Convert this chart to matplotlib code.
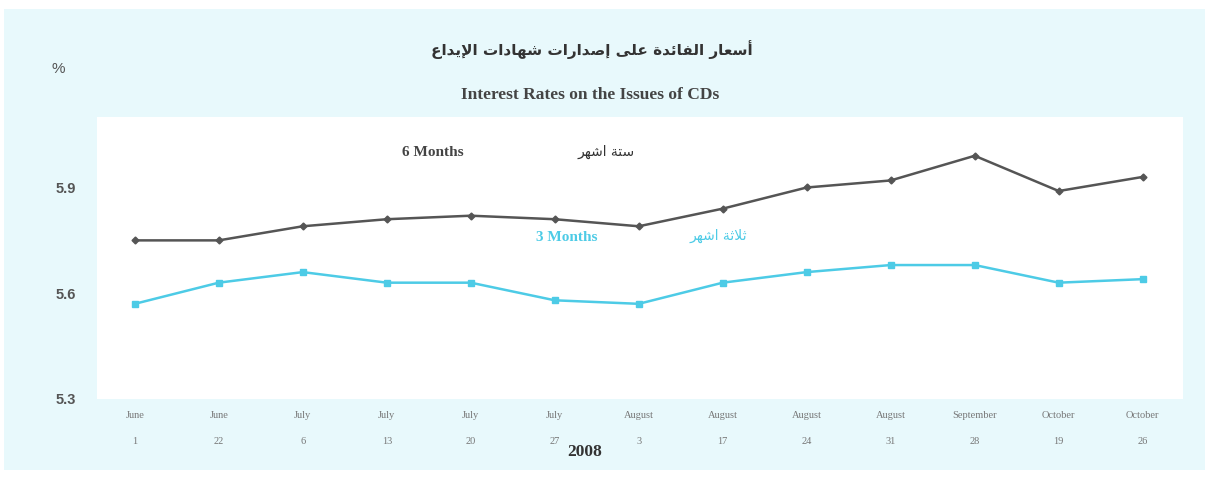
import matplotlib
matplotlib.use("Agg")
import matplotlib.pyplot as plt
from matplotlib.patches import Rectangle

# ---------------- data ----------------
months = ["June", "June", "July", "July", "July", "July", "August", "August",
          "August", "August", "September", "October", "October"]
days = ["1", "22", "6", "13", "20", "27", "3", "17", "24", "31", "28", "19", "26"]
six_months = [5.75, 5.75, 5.79, 5.81, 5.82, 5.81, 5.79, 5.84, 5.90, 5.92, 5.99, 5.89, 5.93]
three_months = [5.57, 5.63, 5.66, 5.63, 5.63, 5.58, 5.57, 5.63, 5.66, 5.68, 5.68, 5.63, 5.64]
yticks = [5.3, 5.6, 5.9]
title_ar = "أسعار الفائدة على إصدارات شهادات الإيداع"
title_en = "Interest Rates on the Issues of CDs"
label6_en, label6_ar = "6 Months", "ستة اشهر"
label3_en, label3_ar = "3 Months", "ثلاثة اشهر"
year_label = "2008"

# ------------- minimal Arabic shaping (presentation forms + RTL) -------------
FORMS = {  # isolated, final, initial, medial
    'ء': (0xFE80, None, None, None),
    'آ': (0xFE81, 0xFE82, None, None),
    'أ': (0xFE83, 0xFE84, None, None),
    'ؤ': (0xFE85, 0xFE86, None, None),
    'إ': (0xFE87, 0xFE88, None, None),
    'ئ': (0xFE89, 0xFE8A, 0xFE8B, 0xFE8C),
    'ا': (0xFE8D, 0xFE8E, None, None),
    'ب': (0xFE8F, 0xFE90, 0xFE91, 0xFE92),
    'ة': (0xFE93, 0xFE94, None, None),
    'ت': (0xFE95, 0xFE96, 0xFE97, 0xFE98),
    'ث': (0xFE99, 0xFE9A, 0xFE9B, 0xFE9C),
    'ج': (0xFE9D, 0xFE9E, 0xFE9F, 0xFEA0),
    'ح': (0xFEA1, 0xFEA2, 0xFEA3, 0xFEA4),
    'خ': (0xFEA5, 0xFEA6, 0xFEA7, 0xFEA8),
    'د': (0xFEA9, 0xFEAA, None, None),
    'ذ': (0xFEAB, 0xFEAC, None, None),
    'ر': (0xFEAD, 0xFEAE, None, None),
    'ز': (0xFEAF, 0xFEB0, None, None),
    'س': (0xFEB1, 0xFEB2, 0xFEB3, 0xFEB4),
    'ش': (0xFEB5, 0xFEB6, 0xFEB7, 0xFEB8),
    'ص': (0xFEB9, 0xFEBA, 0xFEBB, 0xFEBC),
    'ض': (0xFEBD, 0xFEBE, 0xFEBF, 0xFEC0),
    'ط': (0xFEC1, 0xFEC2, 0xFEC3, 0xFEC4),
    'ظ': (0xFEC5, 0xFEC6, 0xFEC7, 0xFEC8),
    'ع': (0xFEC9, 0xFECA, 0xFECB, 0xFECC),
    'غ': (0xFECD, 0xFECE, 0xFECF, 0xFED0),
    'ف': (0xFED1, 0xFED2, 0xFED3, 0xFED4),
    'ق': (0xFED5, 0xFED6, 0xFED7, 0xFED8),
    'ك': (0xFED9, 0xFEDA, 0xFEDB, 0xFEDC),
    'ل': (0xFEDD, 0xFEDE, 0xFEDF, 0xFEE0),
    'م': (0xFEE1, 0xFEE2, 0xFEE3, 0xFEE4),
    'ن': (0xFEE5, 0xFEE6, 0xFEE7, 0xFEE8),
    'ه': (0xFEE9, 0xFEEA, 0xFEEB, 0xFEEC),
    'و': (0xFEED, 0xFEEE, None, None),
    'ى': (0xFEEF, 0xFEF0, None, None),
    'ي': (0xFEF1, 0xFEF2, 0xFEF3, 0xFEF4),
}
LAM_ALEF = {'آ': (0xFEF5, 0xFEF6), 'أ': (0xFEF7, 0xFEF8),
            'إ': (0xFEF9, 0xFEFA), 'ا': (0xFEFB, 0xFEFC)}


def dual(c):
    return c in FORMS and FORMS[c][2] is not None


def shape(text):
    units = []
    i = 0
    while i < len(text):
        c = text[i]
        if c == 'ل' and i + 1 < len(text) and text[i + 1] in LAM_ALEF:
            units.append(('LA', text[i + 1]))
            i += 2
        else:
            units.append(('C', c))
            i += 1
    out = []
    for k, (kind, c) in enumerate(units):
        prev = units[k - 1] if k > 0 else None
        nxt = units[k + 1] if k + 1 < len(units) else None
        prev_joins = prev is not None and prev[0] == 'C' and dual(prev[1])
        if kind == 'LA':
            iso, fin = LAM_ALEF[c]
            out.append(chr(fin if prev_joins else iso))
            continue
        if c not in FORMS:
            out.append(c)
            continue
        iso, fin, ini, med = FORMS[c]
        next_joins = (nxt is not None and dual(c) and
                      (nxt[0] == 'LA' or nxt[1] in FORMS))
        if prev_joins and next_joins:
            out.append(chr(med))
        elif prev_joins and fin:
            out.append(chr(fin))
        elif next_joins:
            out.append(chr(ini))
        else:
            out.append(chr(iso))
    return ''.join(out)[::-1]


# ---------------- figure ----------------
W, H = 1209, 479
fig = plt.figure(figsize=(W / 100, H / 100), dpi=100)
fig.patch.set_facecolor("white")
fig.patches.append(Rectangle((4 / W, 9 / H), 1201 / W, 461 / H,
                             transform=fig.transFigure, facecolor="#e8f9fc",
                             edgecolor="none", zorder=-5))

ax = fig.add_axes([97 / W, 1 - 399 / H, (1183 - 97) / W, (399 - 117) / H])
ax.set_zorder(2)
ax.set_facecolor("white")
for s in ax.spines.values():
    s.set_visible(False)

x = list(range(len(months)))
dark = "#555555"
cyan = "#4dcbe6"
ax.plot(x, six_months, color=dark, lw=1.8, marker="D", ms=3.5,
        mfc=dark, mec=dark, zorder=3)
ax.plot(x, three_months, color=cyan, lw=1.8, marker="s", ms=4.5,
        mfc=cyan, mec=cyan, zorder=3)

ax.set_xlim(-0.45, 12.48)
ax.set_ylim(5.3, 6.1)
ax.set_yticks(yticks, [f"{v:.1f}" for v in yticks])
ax.tick_params(axis="y", length=0, pad=15, labelsize=10.5, labelcolor="#555555")
for t in ax.get_yticklabels():
    t.set_fontfamily("Liberation Sans")
    t.set_fontweight("bold")

ax.set_xticks(x, [f"{m}\n{d}" for m, d in zip(months, days)],
              fontsize=7.5, color="#777777", family="Liberation Serif",
              linespacing=3.3)
ax.tick_params(axis="x", length=0, pad=9)


def fig_text(px, py, s, **kw):
    fig.text(px / W, 1 - py / H, s, ha="center", va="center", zorder=5, **kw)


fig_text(433, 153, label6_en, family="Liberation Serif", fontweight="bold",
         fontsize=11, color="#444444")
fig_text(606, 152, shape(label6_ar), family="DejaVu Sans", fontsize=10,
         color="#333333")
fig_text(567, 237, label3_en, family="Liberation Serif", fontweight="bold",
         fontsize=11, color=cyan)
fig_text(718, 236, shape(label3_ar), family="DejaVu Sans", fontsize=10,
         color=cyan)

fig_text(592, 50, shape(title_ar), family="DejaVu Sans", fontweight="bold",
         fontsize=11, color="#333333")
fig_text(590, 95, title_en, family="Liberation Serif", fontweight="bold",
         fontsize=12.5, color="#444444")
fig_text(58, 69, "%", family="Liberation Sans", fontsize=11, color="#555555")
fig_text(585, 452, year_label, family="Liberation Serif", fontweight="bold",
         fontsize=12.5, color="#333333")

fig.savefig("out.png", dpi=100, facecolor=fig.get_facecolor())
